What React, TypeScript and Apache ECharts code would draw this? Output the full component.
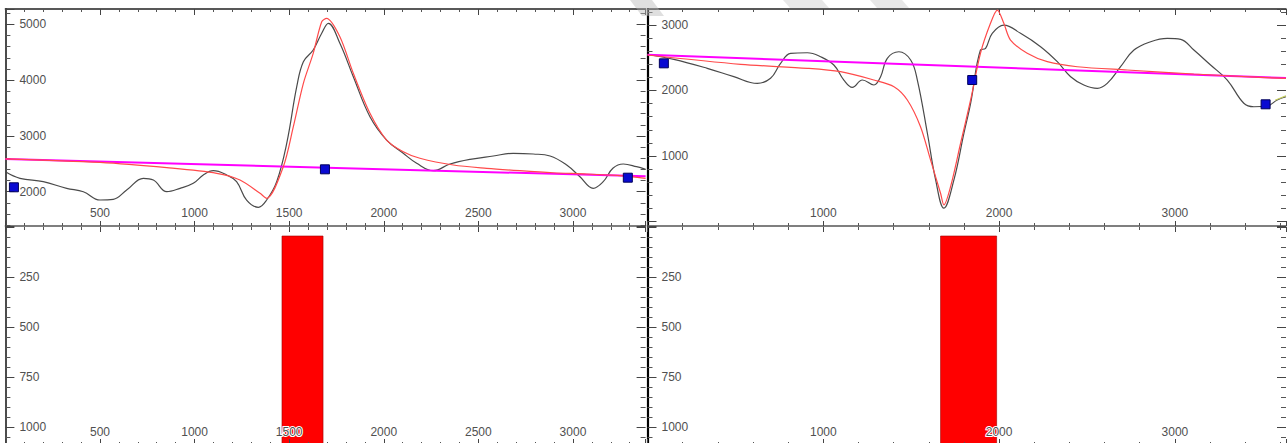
import React, { useEffect, useRef } from 'react';
import * as echarts from 'echarts';

// ---------- data ----------
// Left panel, upper plot: observed curve [position, value]
const leftObserved: [number, number][] = [
  [0, 2358], [77, 2240], [200, 2180], [324, 2060], [412, 2000], [500, 1851], [570, 1863],
  [641, 2030], [729, 2240], [782, 2210], [853, 2000], [923, 2060], [993, 2150], [1046, 2300],
  [1099, 2376], [1170, 2300], [1222, 2180], [1275, 1850], [1337, 1720], [1381, 1851],
  [1434, 2180], [1487, 2867], [1540, 3882], [1575, 4330], [1627, 4540], [1672, 4840],
  [1707, 5018], [1768, 4660], [1839, 4060], [1927, 3344], [2015, 2926], [2103, 2688],
  [2174, 2509], [2262, 2376], [2350, 2496], [2456, 2580], [2579, 2640], [2684, 2688],
  [2790, 2676], [2879, 2640], [2967, 2478], [3037, 2269], [3107, 2061], [3160, 2180],
  [3211, 2419], [3266, 2496], [3336, 2448], [3384, 2400],
];
// Left panel, upper plot: fitted curve
const leftFit: [number, number][] = [
  [0, 2590], [500, 2525], [853, 2430], [1117, 2330], [1240, 2210], [1346, 1971], [1381, 1882],
  [1469, 2448], [1522, 3165], [1575, 3943], [1627, 4480], [1672, 5047], [1698, 5107],
  [1768, 4778], [1839, 4122], [1927, 3405], [2015, 2926], [2103, 2717], [2191, 2599],
  [2368, 2478], [2544, 2419], [2720, 2376], [2896, 2340], [3072, 2317], [3248, 2287], [3384, 2240],
];
// Left panel, upper plot: baseline
const leftBaseline: [number, number][] = [[0, 2586], [3384, 2275]];
// Left panel, upper plot: anchor points
const leftAnchors: [number, number][] = [[45, 2079], [1689, 2401], [3290, 2251]];
// Left panel, lower plot: interval [start, end, top, bottom]
const leftInterval: [number, number, number, number][] = [[1462, 1679, 45, 1090]];

// Right panel, upper plot
const rightObserved: [number, number][] = [
  [0, 2550], [150, 2476], [340, 2339], [491, 2211], [625, 2109], [700, 2186], [757, 2415],
  [814, 2567], [909, 2577], [985, 2516], [1060, 2389], [1117, 2160], [1165, 2049], [1222, 2160],
  [1288, 2084], [1326, 2211], [1364, 2492], [1430, 2592], [1497, 2466], [1535, 2160],
  [1592, 1347], [1639, 634], [1686, 202], [1743, 634], [1800, 1347], [1838, 1805],
  [1894, 2618], [1923, 2643], [1961, 2873], [2027, 3000], [2122, 2873], [2236, 2669],
  [2331, 2440], [2407, 2211], [2482, 2084], [2559, 2033], [2615, 2109], [2691, 2363],
  [2767, 2618], [2862, 2745], [2957, 2796], [3033, 2781], [3108, 2618], [3203, 2389],
  [3298, 2160], [3392, 1805], [3449, 1752], [3525, 1763], [3582, 1855], [3632, 1905],
];
const rightFit: [number, number][] = [
  [0, 2542], [530, 2400], [909, 2339], [1098, 2287], [1288, 2160], [1402, 2058], [1478, 1855],
  [1553, 1447], [1610, 939], [1667, 431], [1686, 252], [1724, 531], [1781, 1194], [1838, 1855],
  [1894, 2568], [1951, 3026], [1990, 3229], [2027, 3026], [2065, 2771], [2160, 2568],
  [2274, 2440], [2445, 2363], [2729, 2313], [3108, 2252], [3487, 2201], [3632, 2185],
];
const rightBaseline: [number, number][] = [[0, 2545], [3632, 2190]];
const rightAnchors: [number, number][] = [[93, 2415], [1847, 2160], [3516, 1789]];
const rightExtra: [number, number][] = [[3570, 1850], [3632, 1920]];
const rightInterval: [number, number, number, number][] = [[1667, 1986, 45, 1090]];

// Tick labels
const leftXTicks = [500, 1000, 1500, 2000, 2500, 3000];
const rightXTicks = [1000, 2000, 3000];
const leftYTicks = [2000, 3000, 4000, 5000];
const rightYTicks = [1000, 2000, 3000];
const lowerYTicks = [250, 500, 750, 1000];

// ---------- styling helpers ----------
const FONT = 'Liberation Sans, Arial, sans-serif';
const LABEL_COLOR = '#505050';

const labelFmt = (ticks: number[]) => (v: number) => (ticks.includes(v) ? String(v) : '');

function xAxisCfg(o: {
  grid: number; pos: 'top' | 'bottom'; max: number; interval: number; ticks?: number[];
  lineColor?: string; lineWidth?: number; showLine?: boolean; tickLen: number; minorLen: number; z?: number;
}) {
  return {
    type: 'value', gridIndex: o.grid, position: o.pos, min: 0, max: o.max, interval: o.interval,
    z: o.z ?? 0,
    axisLine: { show: o.showLine !== false, onZero: false, lineStyle: { color: o.lineColor ?? '#555', width: o.lineWidth ?? 1 } },
    axisTick: { show: true, inside: true, length: o.tickLen, lineStyle: { color: '#444', width: 1 } },
    minorTick: { show: true, splitNumber: 5, length: o.minorLen, lineStyle: { color: '#555', width: 1 } },
    splitLine: { show: false },
    minorSplitLine: { show: false },
    axisLabel: o.ticks
      ? { show: true, inside: true, margin: 7, formatter: labelFmt(o.ticks), color: LABEL_COLOR, fontSize: 12, fontFamily: FONT, textBorderColor: '#fff', textBorderWidth: 2 }
      : { show: false },
  };
}

function yAxisCfg(o: {
  grid: number; pos: 'left' | 'right'; min: number; max: number; ticks?: number[]; step: number;
  inverse?: boolean; showLine?: boolean; lineColor?: string; lineWidth?: number; fixedInterval?: boolean;
}) {
  const base: any = {
    type: 'value', gridIndex: o.grid, position: o.pos, min: o.min, max: o.max, inverse: !!o.inverse,
    axisLine: { show: o.showLine !== false, onZero: false, lineStyle: { color: o.lineColor ?? '#111', width: o.lineWidth ?? 1.5 } },
    axisTick: { show: true, inside: true, length: 9, lineStyle: { color: '#444', width: 1 } },
    minorTick: { show: true, splitNumber: 5, length: 5, lineStyle: { color: '#555', width: 1 } },
    splitLine: { show: false },
    minorSplitLine: { show: false },
    axisLabel: o.ticks
      ? { show: true, inside: true, margin: 14, formatter: labelFmt(o.ticks), color: LABEL_COLOR, fontSize: 12, fontFamily: FONT }
      : { show: false },
  };
  if (o.fixedInterval) base.interval = o.step;
  else { base.minInterval = o.step; base.maxInterval = o.step; }
  return base;
}

const intervalRender = (params: any, api: any) => {
  const p0 = api.coord([api.value(0), api.value(2)]);
  const p1 = api.coord([api.value(1), api.value(3)]);
  return {
    type: 'rect',
    shape: { x: p0[0], y: p0[1], width: p1[0] - p0[0], height: p1[1] - p0[1] },
    style: { fill: '#ff0000', stroke: '#a00000', lineWidth: 0.6 },
  };
};

function lineSeries(name: string, data: [number, number][], xi: number, yi: number, color: string, width: number, smooth: number | boolean, z = 2) {
  return {
    name, type: 'line', xAxisIndex: xi, yAxisIndex: yi, data, smooth, showSymbol: false, symbol: 'none',
    lineStyle: { color, width }, z, clip: true,
  };
}

function anchorSeries(data: [number, number][], xi: number, yi: number) {
  return {
    type: 'scatter', xAxisIndex: xi, yAxisIndex: yi, data, symbol: 'rect', symbolSize: 9, z: 5,
    itemStyle: { color: '#0a0ad2', borderColor: '#00005a', borderWidth: 1, opacity: 1 },
  };
}

const L_LEFT = 5.4, L_W = 640.2, R_LEFT = 647.5, R_W = 638.5;
const TOP = 9, TOP_H = 217, LOW_TOP = 227, LOW_H = 218;
const L_MAX = 3384, R_MAX = 3632;

export default function App() {
  const ref = useRef<HTMLDivElement>(null);
  useEffect(() => {
    if (!ref.current) return;
    const chart = echarts.init(ref.current, undefined, { renderer: 'svg' });
    const option: any = {
      animation: false,
      backgroundColor: '#ffffff',
      textStyle: { fontFamily: FONT },
      grid: [
        { left: L_LEFT, top: TOP, width: L_W, height: TOP_H, outerBoundsMode: 'none', containLabel: false },
        { left: L_LEFT, top: LOW_TOP, width: L_W, height: LOW_H, outerBoundsMode: 'none', containLabel: false },
        { left: R_LEFT, top: TOP, width: R_W, height: TOP_H, outerBoundsMode: 'none', containLabel: false },
        { left: R_LEFT, top: LOW_TOP, width: R_W, height: LOW_H, outerBoundsMode: 'none', containLabel: false },
      ],
      xAxis: [
        // left upper: bottom (labels) and top border
        xAxisCfg({ grid: 0, pos: 'bottom', max: L_MAX, interval: 500, ticks: leftXTicks, lineColor: '#555', lineWidth: 1.5, tickLen: 5, minorLen: 3 }),
        xAxisCfg({ grid: 0, pos: 'top', max: L_MAX, interval: 500, lineColor: '#222', lineWidth: 1.5, tickLen: 6, minorLen: 3 }),
        // left lower: top ticks (down) and bottom labels
        xAxisCfg({ grid: 1, pos: 'top', max: L_MAX, interval: 500, showLine: false, tickLen: 5, minorLen: 3 }),
        xAxisCfg({ grid: 1, pos: 'bottom', max: L_MAX, interval: 500, ticks: leftXTicks, tickLen: 6, minorLen: 3, z: 4 }),
        // right upper
        xAxisCfg({ grid: 2, pos: 'bottom', max: R_MAX, interval: 1000, ticks: rightXTicks, lineColor: '#555', lineWidth: 1.5, tickLen: 5, minorLen: 3 }),
        xAxisCfg({ grid: 2, pos: 'top', max: R_MAX, interval: 1000, lineColor: '#222', lineWidth: 1.5, tickLen: 6, minorLen: 3 }),
        // right lower
        xAxisCfg({ grid: 3, pos: 'top', max: R_MAX, interval: 1000, showLine: false, tickLen: 5, minorLen: 3 }),
        xAxisCfg({ grid: 3, pos: 'bottom', max: R_MAX, interval: 1000, ticks: rightXTicks, tickLen: 6, minorLen: 3, z: 4 }),
      ],
      yAxis: [
        yAxisCfg({ grid: 0, pos: 'left', min: 1385, max: 5275, ticks: leftYTicks, step: 1000 }),
        yAxisCfg({ grid: 0, pos: 'right', min: 1385, max: 5275, step: 1000, showLine: false }),
        yAxisCfg({ grid: 1, pos: 'left', min: 0, max: 1090, ticks: lowerYTicks, step: 250, inverse: true, fixedInterval: true }),
        yAxisCfg({ grid: 1, pos: 'right', min: 0, max: 1090, step: 250, inverse: true, fixedInterval: true, showLine: false }),
        yAxisCfg({ grid: 2, pos: 'left', min: -70, max: 3245, ticks: rightYTicks, step: 1000, lineWidth: 2.2, lineColor: '#000' }),
        yAxisCfg({ grid: 2, pos: 'right', min: -70, max: 3245, step: 1000, showLine: false }),
        yAxisCfg({ grid: 3, pos: 'left', min: 0, max: 1090, ticks: lowerYTicks, step: 250, inverse: true, fixedInterval: true, lineWidth: 2.2, lineColor: '#000' }),
        yAxisCfg({ grid: 3, pos: 'right', min: 0, max: 1090, step: 250, inverse: true, fixedInterval: true, showLine: false }),
      ],
      series: [
        lineSeries('observed-left', leftObserved, 0, 0, '#4a4a4a', 1.2, 0.4, 2),
        lineSeries('baseline-left', leftBaseline, 0, 0, '#ff00ff', 2, false, 3),
        lineSeries('fit-left', leftFit, 0, 0, '#ff4a4a', 1.2, 0.3, 4),
        anchorSeries(leftAnchors, 0, 0),
        {
          type: 'custom', xAxisIndex: 3, yAxisIndex: 2, data: leftInterval, renderItem: intervalRender,
          encode: { x: [0, 1], y: [2, 3] }, z: 1,
        },
        lineSeries('observed-right', rightObserved, 4, 4, '#4a4a4a', 1.2, 0.4, 2),
        lineSeries('baseline-right', rightBaseline, 4, 4, '#ff00ff', 2, false, 3),
        lineSeries('fit-right', rightFit, 4, 4, '#ff4a4a', 1.2, 0.3, 4),
        lineSeries('extra-right', rightExtra, 4, 4, '#c3cc5a', 1.2, false, 2),
        anchorSeries(rightAnchors, 4, 4),
        {
          type: 'custom', xAxisIndex: 7, yAxisIndex: 6, data: rightInterval, renderItem: intervalRender,
          encode: { x: [0, 1], y: [2, 3] }, z: 1,
        },
      ],
      graphic: [
        { type: 'polygon', z: 100, silent: true, shape: { points: [[630, 0], [652, 0], [664, 16], [642, 16]] }, style: { fill: 'rgba(185,185,185,0.45)' } },
        { type: 'polygon', z: 100, silent: true, shape: { points: [[783, 0], [822, 0], [829, 8], [790, 8]] }, style: { fill: 'rgba(185,185,185,0.35)' } },
        { type: 'polygon', z: 100, silent: true, shape: { points: [[870, 0], [902, 0], [909, 8], [877, 8]] }, style: { fill: 'rgba(185,185,185,0.35)' } },
      ],
    };
    chart.setOption(option);
    return () => chart.dispose();
  }, []);
  return (
    <div
      ref={ref}
      style={{ position: 'absolute', left: 0, top: 0, width: 1288, height: 443, background: '#fff' }}
    />
  );
}
